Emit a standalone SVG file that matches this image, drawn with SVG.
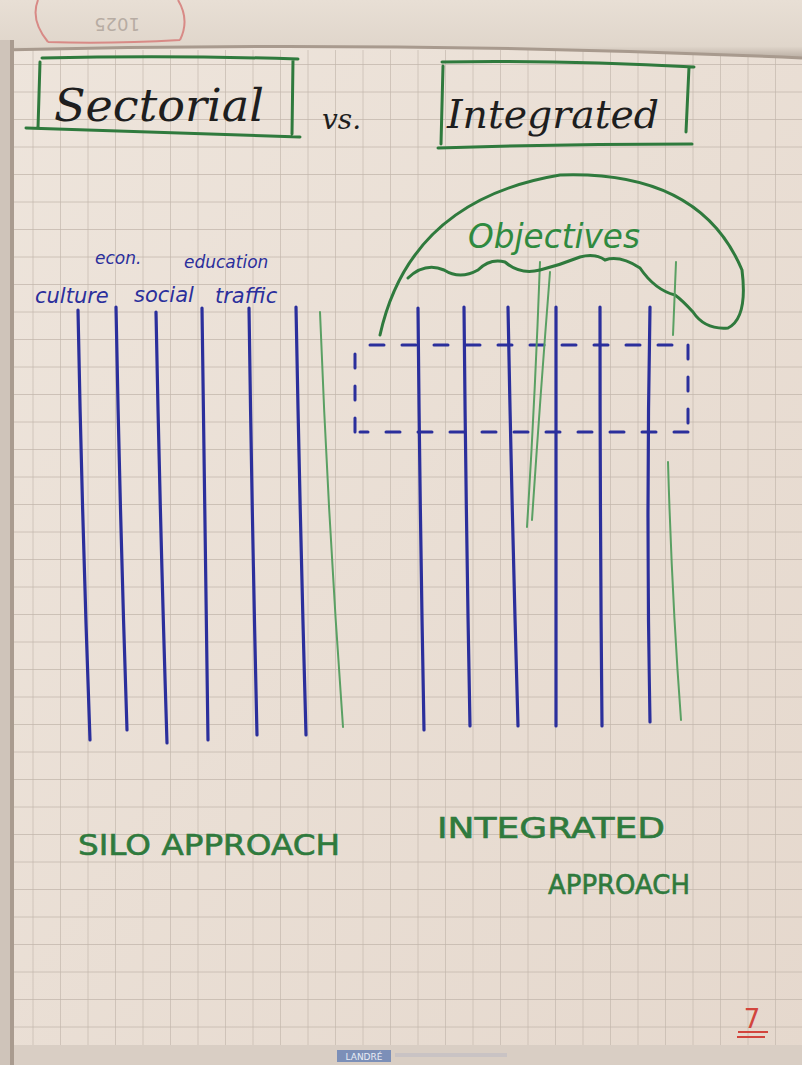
<svg xmlns="http://www.w3.org/2000/svg" width="802" height="1065" viewBox="0 0 802 1065">
<defs>
<pattern id="grid" x="6" y="10" width="27.5" height="27.5" patternUnits="userSpaceOnUse">
<path d="M27.5 0 V27.5 M0 27.5 H27.5" fill="none" stroke="#c2b6ab" stroke-width="1.3"/>
</pattern>
<linearGradient id="roll" x1="0" y1="0" x2="0" y2="1">
<stop offset="0" stop-color="#e8dfd5"/><stop offset="0.8" stop-color="#e0d6cb"/><stop offset="1" stop-color="#b9ada2"/>
</linearGradient>
<linearGradient id="paper" x1="0" y1="0" x2="1" y2="1">
<stop offset="0" stop-color="#eee5dc"/><stop offset="1" stop-color="#e5d8cd"/>
</linearGradient>
</defs>
<style>
.blue{fill:none;stroke:#2b2f9c;stroke-width:3.2;stroke-linecap:round}
.green{fill:none;stroke:#2f7a3d;stroke-width:3;stroke-linecap:round}
.lgreen{fill:none;stroke:#5aa063;stroke-width:2;stroke-linecap:round}
.dash{fill:none;stroke:#2b2f9c;stroke-width:3;stroke-dasharray:14 18;stroke-linecap:round}
.hand{font-family:"DejaVu Sans","Liberation Sans",sans-serif}
.title{font-family:"DejaVu Serif","Liberation Serif",serif;font-style:italic;fill:#1e1e1e}
.lbl{font-family:"DejaVu Sans",sans-serif;font-style:italic;fill:#2b2f9c}
.cap{font-family:"DejaVu Sans",sans-serif;fill:#2f7a3d;stroke:#2f7a3d;stroke-width:0.6}
</style>
<rect width="802" height="1065" fill="url(#paper)"/>
<rect x="14" y="50" width="788" height="1000" fill="url(#grid)"/>
<!-- rolled top -->
<path d="M0 0 H802 V58 Q400 40 0 50 Z" fill="url(#roll)"/>
<path d="M0 50 Q400 40 802 58" fill="none" stroke="#a89a8e" stroke-width="3"/>
<path d="M38 0 Q30 20 48 42 M178 0 Q190 20 180 40 M48 42 Q110 44 180 40" fill="none" stroke="#d88a86" stroke-width="2"/>
<text x="80" y="30" class="hand" font-size="18" fill="#b7aca3" transform="rotate(180 110 24)">1025</text>
<!-- left edge -->
<rect x="0" y="40" width="14" height="1025" fill="#cfc4ba"/>
<rect x="10" y="40" width="4" height="1025" fill="#a99b8f"/>
<!-- bottom -->
<rect x="14" y="1045" width="788" height="20" fill="#d9cec4"/>
<rect x="337" y="1050" width="54" height="12" fill="#7c8fb8"/>
<text x="364" y="1060" class="hand" font-size="9" fill="#e8ecf5" text-anchor="middle">LANDRÉ</text>
<rect x="395" y="1053" width="112" height="4" fill="#c9c3c4"/>

<g id="sectorial">
<path class="green" d="M42 58 Q170 55 298 59 M40 62 L38 128 M293 60 L292 134 M26 128 Q160 132 300 137"/>
<text x="54" y="121" class="title" font-size="44" textLength="210" lengthAdjust="spacingAndGlyphs">Sectorial</text>
</g>
<g id="vs"><text x="322" y="129" class="title" font-size="28">vs.</text></g>
<g id="integrated">
<path class="green" d="M442 62 Q560 60 694 67 M443 66 L441 144 M689 67 L686 132 M438 148 Q560 144 692 144"/>
<text x="447" y="128" class="title" font-size="40" textLength="212" lengthAdjust="spacingAndGlyphs">Integrated</text>
</g>

<g id="silo">
<text x="95" y="264" class="lbl" font-size="17">econ.</text>
<text x="184" y="268" class="lbl" font-size="17">education</text>
<text x="35" y="303" class="lbl" font-size="21">culture</text>
<text x="134" y="302" class="lbl" font-size="21">social</text>
<text x="215" y="303" class="lbl" font-size="21">traffic</text>
<path class="blue" d="M78 310 Q82 520 90 740 M116 307 Q120 520 127 730 M156 312 Q160 520 167 743 M202 308 Q205 520 208 740 M249 308 Q252 520 257 735 M296 307 Q300 520 306 735"/>
<path class="lgreen" d="M320 312 Q328 520 343 727" stroke-width="2.5"/>
</g>

<g id="integrated-cols">
<path class="blue" d="M418 308 Q420 520 424 730 M464 307 Q466 520 470 726 M508 307 Q512 520 518 726 M556 307 Q556 520 556 726 M600 307 Q600 520 602 726 M650 307 Q646 520 650 722"/>
<path class="dash" d="M370 345 H688 M688 345 V432 M688 432 H360 M355 432 V345"/>
<path class="lgreen" d="M668 462 Q672 600 681 720" stroke-width="2.5"/>
<path class="lgreen" d="M540 262 Q535 400 527 527 M550 272 Q540 400 532 520" stroke="#7bbf80"/>
</g>

<g id="objectives">
<path class="green" stroke-width="2" d="M380 335 Q410 200 560 175 Q700 170 742 270 Q748 318 728 328 Q705 330 693 312 Q682 300 675 295 Q655 290 640 268 Q620 255 605 260 Q595 253 580 257 Q560 265 540 270 Q520 275 505 262 Q490 258 478 270 Q460 280 444 270 Q425 262 408 278"/>
<path class="lgreen" d="M676 262 L673 335" stroke-width="1.5"/>
<text x="468" y="248" class="hand" font-size="34" fill="#2f8a40" font-style="italic" textLength="172" lengthAdjust="spacingAndGlyphs">Objectives</text>
</g>

<g id="captions">
<text x="78" y="855" class="cap" font-size="29" textLength="262" lengthAdjust="spacingAndGlyphs">SILO APPROACH</text>
<text x="437" y="838" class="cap" font-size="29" textLength="228" lengthAdjust="spacingAndGlyphs">INTEGRATED</text>
<text x="548" y="894" class="cap" font-size="27" textLength="142" lengthAdjust="spacingAndGlyphs">APPROACH</text>
</g>

<g id="page-number">
<text x="752" y="1028" class="hand" font-size="26" fill="#d2453d" text-anchor="middle">7</text>
<path d="M738 1032 H768 M737 1037 H765" stroke="#d2453d" stroke-width="2" fill="none"/>
</g>
</svg>
